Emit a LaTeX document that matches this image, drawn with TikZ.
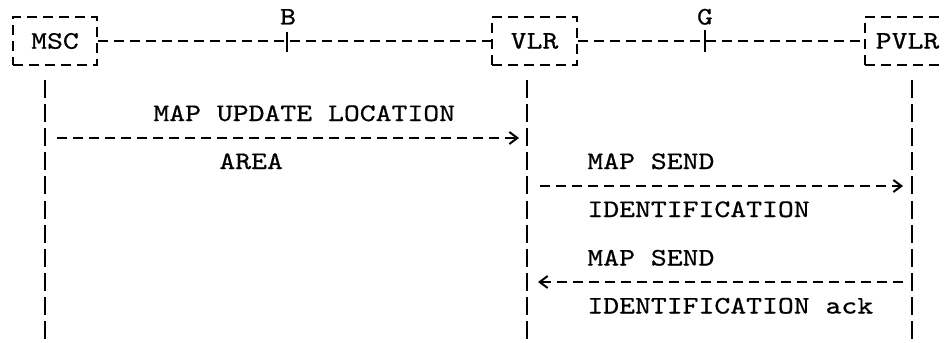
\documentclass[tikz,border=0pt]{standalone}
\usepackage{fontspec}
\setmonofont{lmmono10-regular.otf}[FakeStretch=1.2,FakeBold=0.6]
\usetikzlibrary{arrows.meta}

\begin{document}
\begin{tikzpicture}[x=0.5pt,y=-0.5pt,
    every node/.style={font=\ttfamily\fontsize{12.6}{15}\selectfont,inner sep=0pt},
    entity/.style={draw,line width=0.9pt,dash pattern=on 5pt off 3pt,minimum height=24pt},
    iface/.style={line width=0.9pt,dash pattern=on 5pt off 3pt},
    tick/.style={line width=0.9pt},
    lifeline/.style={line width=0.9pt,dash pattern=on 9pt off 3.05pt},
    msg/.style={line width=1pt,dash pattern=on 5pt off 3pt,-{Straight Barb[length=4pt,width=6pt]}},
    msgtext/.style={anchor=base west}]
  \useasboundingbox (0,0) rectangle (945,342);

  % network entities
  \node[entity,minimum width=42pt] (msc) at (55,41) {MSC};
  \node[entity,minimum width=42.5pt] (vlr) at (534.5,41) {VLR};
  \node[entity,minimum width=42.5pt] (pvlr) at (907.5,41) {PVLR};

  % interfaces B and G
  \coordinate (b) at (287,42);
  \coordinate (g) at (705,42);
  \draw[iface] (msc) -- (vlr);
  \draw[iface] (vlr) -- (pvlr);
  \draw[tick] ([yshift=5pt]b) -- ([yshift=-5pt]b);
  \draw[tick] ([yshift=6pt]g) -- ([yshift=-5pt]g);
  \node[anchor=base] (blabel) at (288,24.5) {B};
  \node[anchor=base] (glabel) at (705,24.5) {G};

  % lifelines
  \coordinate (msc top) at (45,80);
  \coordinate (msc bot) at (45,342);
  \coordinate (vlr top) at (527,80);
  \coordinate (vlr bot) at (527,342);
  \coordinate (pvlr top) at (912,80);
  \coordinate (pvlr bot) at (912,342);
  \draw[lifeline] (msc top) -- (msc bot);
  \draw[lifeline] (vlr top) -- (vlr bot);
  \draw[lifeline] (pvlr top) -- (pvlr bot);

  % MAP UPDATE LOCATION AREA
  \coordinate (upd from) at (57,138);
  \coordinate (upd to) at (519,138);
  \draw[msg] (upd from) -- (upd to);
  \node[msgtext] (upd) at (153,121) {MAP UPDATE LOCATION};
  \node[msgtext] (area) at (219,169) {AREA};

  % MAP SEND IDENTIFICATION
  \coordinate (sid from) at (540,186);
  \coordinate (sid to) at (903,186);
  \draw[msg] (sid from) -- (sid to);
  \node[msgtext] (sid) at (587,169) {MAP SEND};
  \node[msgtext] (ident) at (587,217) {IDENTIFICATION};

  % MAP SEND IDENTIFICATION ack
  \coordinate (ack from) at (903,282);
  \coordinate (ack to) at (538,282);
  \draw[msg] (ack from) -- (ack to);
  \node[msgtext] (ack) at (587,265.5) {MAP SEND};
  \node[msgtext] (identack) at (587,313.5) {IDENTIFICATION ack};
\end{tikzpicture}
\end{document}
